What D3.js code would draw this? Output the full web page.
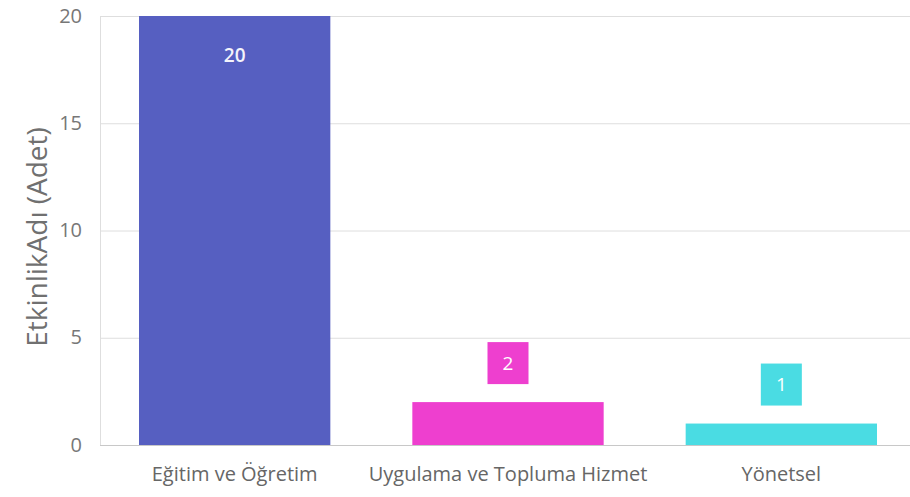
<!DOCTYPE html>
<html><head><meta charset="utf-8">
<script src="https://cdn.jsdelivr.net/npm/d3@7"></script>
<style>body{margin:0;background:#fff}svg{display:block}text{font-family:"Open Sans","Noto Sans",sans-serif}</style>
</head><body><svg id="c" width="910" height="497"></svg>
<script>
const categories = ["Eğitim ve Öğretim", "Uygulama ve Topluma Hizmet", "Yönetsel"];
const values = [20, 2, 1];
const colors = ["#565FC1", "#EE3FCF", "#4ADCE3"];
const yTicks = [0, 5, 10, 15, 20];
const yTitle = "EtkinlikAdı (Adet)";

const svg = d3.select("#c");
const pLeft = 100, pRight = 910, pTop = 16, pBottom = 445;
const x = d3.scaleBand().domain(categories).range([98, 918]).paddingInner(0.3).paddingOuter(0.15);
const y = d3.scaleLinear().domain([0, 20]).range([pBottom, pTop]);

// gridlines
svg.append("g").selectAll("line").data(yTicks).join("line")
  .attr("x1", pLeft).attr("x2", pRight)
  .attr("y1", d => y(d) + 0.5).attr("y2", d => y(d) + 0.5)
  .attr("stroke", d => d === 0 ? "#c8c8c8" : "#dedede").attr("stroke-width", 1);
svg.append("line").attr("x1", pLeft + 0.5).attr("x2", pLeft + 0.5).attr("y1", pTop).attr("y2", pBottom)
  .attr("stroke", "#dedede");

// y tick labels
svg.append("g").selectAll("text").data(yTicks).join("text")
  .attr("x", 82).attr("y", d => y(d)).attr("dy", "0.33em")
  .attr("text-anchor", "end").attr("font-size", 20).attr("fill", "#777")
  .text(d => d);

// y title
svg.append("text").attr("transform", `translate(47,${237}) rotate(-90)`)
  .attr("text-anchor", "middle").attr("font-size", 28).attr("fill", "#707070")
  .text(yTitle);

// bars
svg.append("g").selectAll("rect").data(values).join("rect")
  .attr("x", (d, i) => x(categories[i])).attr("width", x.bandwidth())
  .attr("y", d => y(d)).attr("height", d => y(0) - y(d))
  .attr("fill", (d, i) => colors[i]);

// labels
values.forEach((v, i) => {
  const cx = x(categories[i]) + x.bandwidth() / 2;
  if (y(0) - y(v) > 80) {
    svg.append("text").attr("x", cx).attr("y", y(v) + 39).attr("dy", "0.35em")
      .attr("text-anchor", "middle").attr("font-size", 19).attr("font-weight", 600).attr("fill", "#f4f4fb").text(v);
  } else {
    const bh = 42, bw = 41;
    const by = y(v) - 18 - bh;
    svg.append("rect").attr("x", cx - bw / 2).attr("y", by).attr("width", bw).attr("height", bh)
      .attr("fill", colors[i]);
    svg.append("text").attr("x", cx).attr("y", by + bh / 2).attr("dy", "0.35em")
      .attr("text-anchor", "middle").attr("font-size", 19).attr("fill", "#fff").text(v);
  }
});

// x labels
svg.append("g").selectAll("text").data(categories).join("text")
  .attr("x", d => x(d) + x.bandwidth() / 2).attr("y", 481)
  .attr("text-anchor", "middle").attr("font-size", 20).attr("fill", "#666")
  .text(d => d);
</script></body></html>
